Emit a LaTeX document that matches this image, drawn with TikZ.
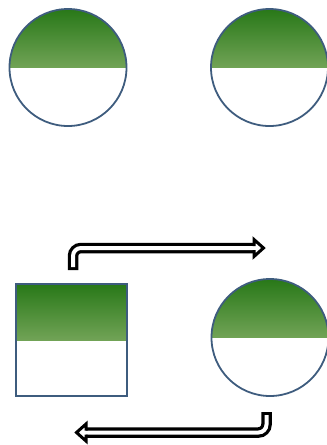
\documentclass[tikz,border=0pt]{standalone}
\usetikzlibrary{arrows.meta}

\definecolor{rimblue}{HTML}{3E5C7E}
\definecolor{leafdark}{HTML}{287818}
\definecolor{leaflight}{HTML}{BACE94}

\tikzset{
  rim/.style={draw=rimblue, line width=1.8pt, inner sep=0pt},
  halfshade/.style={path picture={
    \shade[top color=leafdark, bottom color=leaflight]
      (path picture bounding box.north west) rectangle (path picture bounding box.east);}},
  disc/.style={circle, rim, halfshade, minimum size=117pt},
  block/.style={rectangle, rim, halfshade, minimum width=111pt, minimum height=112pt},
  shaftout/.style={line width=10.5pt, rounded corners=8pt},
  shaftin/.style={white, line width=4pt, rounded corners=8pt, shorten <=3pt},
  hollowhead/.pic={
    \filldraw[fill=white, line width=3pt, line join=miter]
      (-11,2) -- (-11,8.5) -- (-1.5,0) -- (-11,-8.5) -- (-11,-2);},
}

\begin{document}
\begin{tikzpicture}[x=1pt, y=-1pt]
  \useasboundingbox (0,0) rectangle (327,445);

  % Top row
  \node[disc] (discA) at (68,67.5) {};
  \node[disc] (discB) at (269.5,67.5) {};

  % Bottom row
  \node[block] (sq) at (71.5,340) {};
  \node[disc] (discC) at (270,337.5) {};

  % Arrow to the right
  \coordinate (upstart) at (73,270);
  \coordinate (upend) at (256,248);
  \coordinate (uptip) at (265,248);
  \draw[shaftout] (upstart) |- (upend);
  \draw[shaftin] (upstart) |- (upend);
  \pic at (uptip) {hollowhead};

  % Arrow back to the left
  \coordinate (downstart) at (266.5,412);
  \coordinate (downend) at (84,432.5);
  \coordinate (downtip) at (75,432.5);
  \draw[shaftout] (downstart) |- (downend);
  \draw[shaftin] (downstart) |- (downend);
  \pic[rotate=180] at (downtip) {hollowhead};
\end{tikzpicture}
\end{document}
